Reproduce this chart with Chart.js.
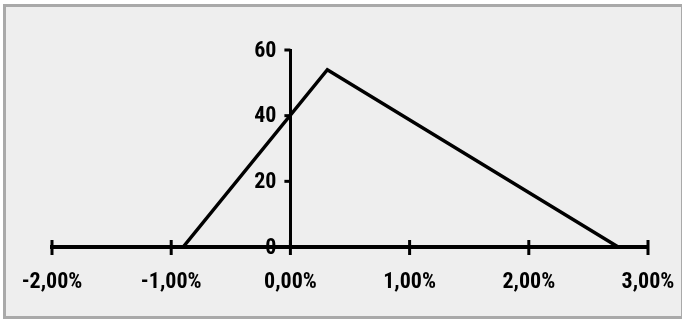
<!DOCTYPE html>
<html>
<head>
<meta charset="utf-8">
<script src="https://cdn.jsdelivr.net/npm/chart.js@4.4.1/dist/chart.umd.min.js"></script>
<style>
  html, body { margin: 0; padding: 0; background: #ffffff; }
  #frame { position: absolute; left: 3px; top: 4px; width: 679px; height: 315px; box-sizing: border-box;
           border: 3px solid #a9a9a9; border-right-width: 1px; background: #eeeeee; }
  #wrap { position: absolute; left: 0; top: 0; width: 683px; height: 320px; }
</style>
</head>
<body>
<div id="frame"></div>
<div id="wrap"><canvas id="c" width="683" height="320"></canvas></div>
<script>
const xValues = [-0.90, 0.31, 2.75];
const yValues = [0, 54, 0];
const xTicks = [-2, -1, 0, 1, 2, 3];
const xTickLabels = ['-2,00%', '-1,00%', '0,00%', '1,00%', '2,00%', '3,00%'];
const yTicks = [0, 20, 40, 60];
const yTickLabels = ['0', '20', '40', '60'];

const points = xValues.map((x, i) => ({ x: x, y: yValues[i] }));
const FONT = { family: '"Roboto Condensed", Roboto, sans-serif', weight: 'bold', size: 22 };

const axisMarks = {
  id: 'axisMarks',
  afterDraw(chart) {
    const ctx = chart.ctx;
    const xs = chart.scales.x, ys = chart.scales.y;
    const y0 = ys.getPixelForValue(0);
    const x0 = xs.getPixelForValue(0);
    ctx.save();
    ctx.strokeStyle = '#000';
    ctx.lineWidth = 3;
    xs.ticks.forEach((t) => {
      const px = xs.getPixelForValue(t.value);
      ctx.beginPath();
      ctx.moveTo(px, y0 - 7);
      ctx.lineTo(px, y0 + 8);
      ctx.stroke();
    });
    yTicks.forEach((v) => {
      const py = ys.getPixelForValue(v);
      ctx.beginPath();
      ctx.moveTo(x0 - 6, py);
      ctx.lineTo(x0, py);
      ctx.stroke();
    });
    ctx.fillStyle = '#000';
    ctx.font = 'bold 22px "Roboto Condensed", Roboto, sans-serif';
    ctx.textAlign = 'right';
    ctx.textBaseline = 'middle';
    yTicks.forEach((v, i) => {
      ctx.fillText(yTickLabels[i], x0 - 14, ys.getPixelForValue(v) + 1);
    });
    ctx.restore();
  }
};

new Chart(document.getElementById('c'), {
  type: 'scatter',
  data: {
    datasets: [{
      data: points,
      showLine: true,
      borderColor: '#000',
      borderWidth: 3.5,
      pointRadius: 0,
      tension: 0,
      fill: false
    }]
  },
  options: {
    responsive: false,
    animation: false,
    devicePixelRatio: 1,
    layout: { padding: { left: 52, right: 35, top: 50, bottom: 23 } },
    plugins: { legend: { display: false }, tooltip: { enabled: false } },
    scales: {
      x: {
        type: 'linear',
        position: 'bottom',
        min: -2, max: 3,
        afterBuildTicks(scale) { scale.ticks = xTicks.map(v => ({ value: v })); },
        afterFit(scale) { scale.height = 50; scale.paddingLeft = 0; scale.paddingRight = 0; },
        grid: { display: false },
        border: { display: true, color: '#000', width: 4 },
        ticks: {
          padding: 14,
          color: '#000',
          font: FONT,
          autoSkip: false,
          maxRotation: 0,
          callback: (v) => { const i = xTicks.indexOf(v); return i >= 0 ? xTickLabels[i] : ''; }
        }
      },
      y: {
        type: 'linear',
        position: { x: 0 },
        min: 0, max: 60,
        afterBuildTicks(scale) { scale.ticks = yTicks.map(v => ({ value: v })); },
        afterFit(scale) { scale.width = 0; scale.paddingTop = 0; scale.paddingBottom = 0; },
        grid: { display: false },
        border: { display: true, color: '#000', width: 3 },
        ticks: { display: false }
      }
    }
  },
  plugins: [axisMarks]
});
</script>
</body>
</html>
